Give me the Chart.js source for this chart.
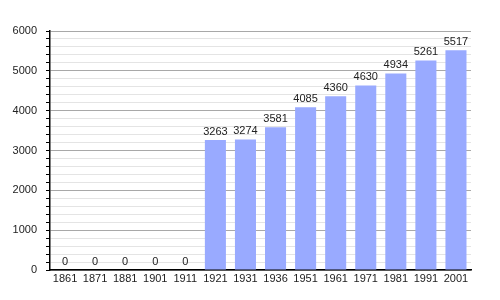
<!DOCTYPE html>
<html>
<head>
<meta charset="utf-8">
<script src="https://cdn.jsdelivr.net/npm/chart.js@4"></script>
<style>
  html, body { margin: 0; padding: 0; background: #fff; }
  #wrap { width: 500px; height: 300px; }
</style>
</head>
<body>
<div id="wrap"><canvas id="popChart" width="500" height="300"></canvas></div>
<script>
// Population by census year
const years = ['1861', '1871', '1881', '1901', '1911', '1921', '1931', '1936', '1951', '1961', '1971', '1981', '1991', '2001'];
const population = [0, 0, 0, 0, 0, 3263, 3274, 3581, 4085, 4360, 4630, 4934, 5261, 5517];
const yMax = 6000;
const yMajorStep = 1000;
const yMinorStep = 200;

// draws the value above each bar
const valueLabels = {
    id: 'valueLabels',
    afterDatasetsDraw(chart) {
        const ctx = chart.ctx;
        const meta = chart.getDatasetMeta(0);
        ctx.save();
        ctx.font = '11px "Liberation Sans", Arial, sans-serif';
        ctx.fillStyle = '#222';
        ctx.textAlign = 'center';
        ctx.textBaseline = 'bottom';
        meta.data.forEach((bar, i) => {
            ctx.fillText(String(population[i]), bar.x, bar.y - 3);
        });
        ctx.restore();
    }
};

new Chart(document.getElementById('popChart'), {
    type: 'bar',
    data: {
        labels: years,
        datasets: [{
            data: population,
            backgroundColor: '#99aaff',
            borderWidth: 0,
            barPercentage: 0.7,
            categoryPercentage: 1.0
        }]
    },
    options: {
        responsive: false,
        animation: false,
        layout: { padding: { top: 31, right: 29, left: 0, bottom: 0 } },
        plugins: {
            legend: { display: false },
            tooltip: { enabled: false }
        },
        scales: {
            x: {
                grid: { display: false, drawTicks: false, tickLength: 0 },
                border: { display: true, color: '#000', width: 1.5 },
                ticks: {
                    color: '#222',
                    padding: 2,
                    maxRotation: 0,
                    autoSkip: false,
                    font: { family: '"Liberation Sans", Arial, sans-serif', size: 11 }
                },
                afterFit: s => { s.height = 30; }
            },
            y: {
                min: 0,
                max: yMax,
                border: { display: true, color: '#000', width: 1.5 },
                grid: {
                    color: c => (c.tick && c.tick.value % yMajorStep === 0) ? '#a8a8a8' : '#e4e4e4',
                    tickColor: '#000',
                    tickLength: 4
                },
                ticks: {
                    stepSize: yMinorStep,
                    color: '#222',
                    padding: 9,
                    autoSkip: false,
                    font: { family: '"Liberation Sans", Arial, sans-serif', size: 11 },
                    callback: v => (v % yMajorStep === 0 ? String(v) : '')
                },
                afterFit: s => { s.width = 50; }
            }
        }
    },
    plugins: [valueLabels]
});
</script>
</body>
</html>
